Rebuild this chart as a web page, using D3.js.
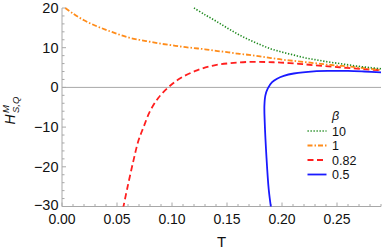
<!DOCTYPE html>
<html>
<head>
<meta charset="utf-8">
<script src="https://cdn.jsdelivr.net/npm/d3@7"></script>
<style>
  body { margin: 0; background: #fff; }
  svg { font-family: "Liberation Sans", Arial, sans-serif; }
</style>
</head>
<body>
<div id="chart"></div>
<script>
// H^M_{S,Q} against T for several beta
const beta10T = [0.12, 0.13, 0.14, 0.15, 0.16, 0.17, 0.18, 0.19, 0.20, 0.21, 0.22, 0.23, 0.24, 0.25, 0.26, 0.27, 0.28, 0.29];
const beta10H = [20.0, 18.3, 16.7, 15.0, 13.4, 12.0, 10.8, 9.7, 8.9, 8.2, 7.5, 7.0, 6.5, 6.1, 5.7, 5.3, 5.0, 4.7];

const beta1T = [0.003, 0.01, 0.02, 0.03, 0.04, 0.05, 0.06, 0.07, 0.08, 0.09, 0.10, 0.11, 0.12, 0.13, 0.14, 0.15,
  0.16, 0.17, 0.18, 0.19, 0.20, 0.21, 0.22, 0.23, 0.24, 0.25, 0.26, 0.27, 0.28, 0.29];
const beta1H = [20.0, 18.6, 16.9, 15.6, 14.5, 13.5, 12.6, 12.0, 11.5, 11.0, 10.6, 10.2, 9.9, 9.6, 9.2, 8.9,
  8.5, 8.2, 7.8, 7.4, 7.0, 6.7, 6.4, 6.1, 5.8, 5.5, 5.3, 5.0, 4.7, 4.4];

const beta082T = [0.0555, 0.0595, 0.0649, 0.0695, 0.074, 0.080, 0.0877, 0.097, 0.1075, 0.1227, 0.1375, 0.153,
  0.168, 0.185, 0.199, 0.215, 0.229, 0.245, 0.259, 0.275, 0.29];
const beta082H = [-30.5, -25.2, -18.5, -13.4, -10.1, -6.0, -2.6, 0.1, 2.3, 4.3, 5.5, 6.1,
  6.4, 6.4, 6.25, 5.95, 5.6, 5.25, 4.9, 4.6, 4.3];

const beta05T = [0.1901, 0.1879, 0.1858, 0.1843, 0.1840, 0.1849, 0.187, 0.191, 0.1955, 0.2016, 0.2107, 0.229,
  0.245, 0.26, 0.275, 0.29];
const beta05H = [-30.5, -25.6, -17.2, -8.8, -4.6, -2.0, -0.3, 1.3, 2.2, 2.9, 3.5, 4.05,
  4.15, 4.15, 4.0, 3.8];

const legendLabels = ["10", "1", "0.82", "0.5"];
const xTicks = [0, 0.05, 0.10, 0.15, 0.20, 0.25];
const yTicks = [-30, -20, -10, 0, 10, 20];

const series = [
  { label: legendLabels[0], t: beta10T, h: beta10H, color: "#1f8a1f", dash: "1.3,1.7", width: 1.6 },
  { label: legendLabels[1], t: beta1T, h: beta1H, color: "#ff8c1a", dash: "5,2,1.5,2", width: 1.8 },
  { label: legendLabels[2], t: beta082T, h: beta082H, color: "#ff1f1f", dash: "6,3.5", width: 1.8 },
  { label: legendLabels[3], t: beta05T, h: beta05H, color: "#1a1aff", dash: null, width: 1.8 }
];

const W = 382, H = 250;
const svg = d3.select("#chart").append("svg").attr("width", W).attr("height", H);

const x = d3.scaleLinear().domain([0, 0.29]).range([62, 381]);
const y = d3.scaleLinear().domain([-30, 20]).range([206.5, 8]);

const axisColor = "#a8a8a8";

svg.append("clipPath").attr("id", "clip")
  .append("rect").attr("x", 62).attr("y", 0).attr("width", 320).attr("height", 206.5);

// zero line
svg.append("line")
  .attr("x1", x(0)).attr("x2", x(0.29))
  .attr("y1", y(0)).attr("y2", y(0))
  .attr("stroke", axisColor).attr("stroke-width", 1);

// x axis
const xAxis = svg.append("g").attr("transform", "translate(0," + y(-30) + ")");
xAxis.append("line").attr("x1", x(0)).attr("x2", x(0.29)).attr("stroke", axisColor);
xAxis.selectAll(".minor").data(d3.range(0, 30).map(i => i / 100))
  .enter().append("line")
  .attr("x1", d => x(d)).attr("x2", d => x(d))
  .attr("y1", 0).attr("y2", (d, i) => i % 5 === 0 ? -4 : -2.5)
  .attr("stroke", axisColor);
xAxis.selectAll("text").data(xTicks).enter().append("text")
  .attr("x", d => x(d)).attr("y", 17)
  .attr("text-anchor", "middle")
  .attr("font-size", 14).attr("fill", "#111")
  .text(d => d3.format(".2f")(d));

// y axis
const yAxis = svg.append("g").attr("transform", "translate(" + x(0) + ",0)");
yAxis.append("line").attr("y1", y(-30)).attr("y2", y(20)).attr("stroke", axisColor);
yAxis.selectAll(".minor").data(d3.range(-30, 21, 2))
  .enter().append("line")
  .attr("y1", d => y(d)).attr("y2", d => y(d))
  .attr("x1", 0).attr("x2", d => d % 10 === 0 ? 4 : 2.5)
  .attr("stroke", axisColor);
yAxis.selectAll("text").data(yTicks).enter().append("text")
  .attr("x", -3.5).attr("y", d => y(d) + (d === -30 ? 3.5 : 5))
  .attr("text-anchor", "end")
  .attr("font-size", 14.5).attr("fill", "#111")
  .text(d => d < 0 ? "\u2212" + Math.abs(d) : d);

// axis titles
svg.append("text")
  .attr("x", (x(0) + x(0.29)) / 2).attr("y", 246.5)
  .attr("text-anchor", "middle").attr("font-size", 15).attr("fill", "#111")
  .text("T");

const ylab = svg.append("g").attr("transform", "translate(15,124.5) rotate(-90)")
  .attr("fill", "#111").attr("font-style", "italic");
ylab.append("text").attr("x", 0).attr("y", 0).attr("font-size", 14).text("H");
ylab.append("text").attr("x", 11.5).attr("y", -6.5).attr("font-size", 9.5).text("M");
ylab.append("text").attr("x", 11.5).attr("y", 3.5).attr("font-size", 9.5).text("S,Q");

// curves
const line = d3.line()
  .x(d => x(d[0])).y(d => y(d[1]))
  .curve(d3.curveCatmullRom.alpha(0.5));

const plot = svg.append("g").attr("clip-path", "url(#clip)");
series.slice().reverse().forEach(s => {
  plot.append("path")
    .datum(d3.zip(s.t, s.h))
    .attr("d", line)
    .attr("fill", "none")
    .attr("stroke", s.color)
    .attr("stroke-width", s.width)
    .attr("stroke-dasharray", s.dash);
});

// legend
const legend = svg.append("g");
legend.append("text")
  .attr("x", 332).attr("y", 120)
  .attr("font-size", 12.5).attr("font-style", "italic").attr("fill", "#111")
  .text("\u03b2");
series.forEach((s, i) => {
  const yy = 131 + i * 14.5;
  legend.append("line")
    .attr("x1", 307.5).attr("x2", 326.5)
    .attr("y1", yy).attr("y2", yy)
    .attr("stroke", s.color).attr("stroke-width", s.width)
    .attr("stroke-dasharray", s.dash);
  legend.append("text")
    .attr("x", 332).attr("y", yy + 4.5)
    .attr("font-size", 12.5).attr("fill", "#111")
    .text(s.label);
});
</script>
</body>
</html>
